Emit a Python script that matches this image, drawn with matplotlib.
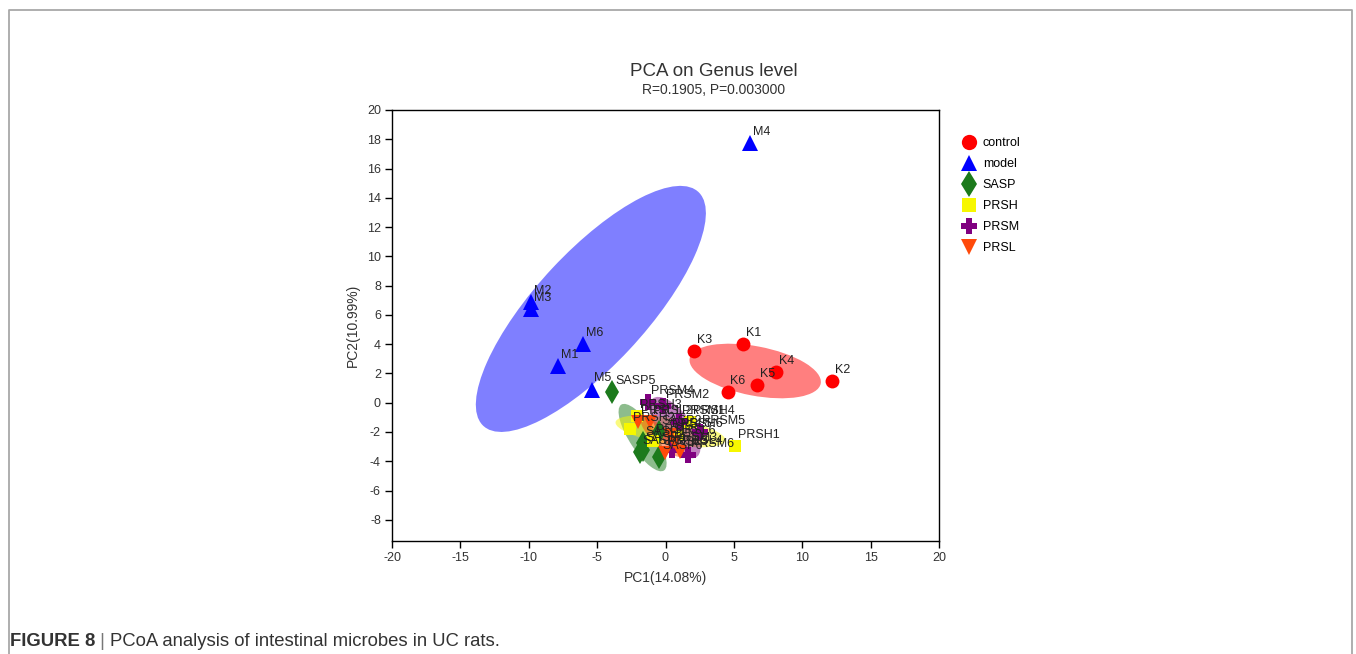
import numpy as np
import matplotlib.pyplot as plt
from matplotlib.patches import Ellipse
from matplotlib.lines import Line2D

plt.rcParams['font.family'] = ['Liberation Sans', 'DejaVu Sans']
plt.rcParams['axes.unicode_minus'] = False

# PCA scores
control_x = [5.7, 12.2, 2.1, 8.1, 6.7, 4.55]
control_y = [4.0, 1.45, 3.55, 2.1, 1.2, 0.7]
model_x = [-7.85, -9.85, -9.85, 6.2, -5.4, -6.0]
model_y = [2.5, 6.9, 6.4, 17.75, 0.9, 4.0]
sasp_x = [-1.65, -0.5, -1.9, -1.65, -3.9, -0.45]
sasp_y = [-2.75, -2.0, -3.4, -3.2, 0.75, -3.7]
prsh_x = [5.1, -2.6, -2.1, 1.8, -0.9, 0.9]
prsh_y = [-2.95, -1.8, -0.9, -1.3, -2.6, -2.2]
prsm_x = [1.0, -0.2, 0.45, -1.25, 2.5, 1.65]
prsm_y = [-1.3, -0.2, -3.2, 0.05, -2.0, -3.55]
prsl_x = [-2.0, -1.1, -0.05, 1.05, 0.3, 0.6]
prsl_y = [-1.3, -1.3, -3.45, -3.35, -2.2, -2.7]

groups = ['control', 'model', 'SASP', 'PRSH', 'PRSM', 'PRSL']
prefixes = ['K', 'M', 'SASP', 'PRSH', 'PRSM', 'PRSL']
xs = [control_x, model_x, sasp_x, prsh_x, prsm_x, prsl_x]
ys = [control_y, model_y, sasp_y, prsh_y, prsm_y, prsl_y]
colors = ['#ff0000', '#0000ff', '#1c7a1c', '#f7f700', '#800080', '#ff4a0a']
markers = ['o', '^', 'd', 's', 'P', 'v']
msizes = [10, 11, 12, 9, 11, 10.5]


def conf_ellipse(x, y, k=1.4, **kw):
    cov = np.cov(x, y)
    vals, vecs = np.linalg.eigh(cov)
    order = vals.argsort()[::-1]
    vals, vecs = vals[order], vecs[:, order]
    angle = np.degrees(np.arctan2(vecs[1, 0], vecs[0, 0]))
    w, h = 2 * k * np.sqrt(vals)
    return Ellipse((np.mean(x), np.mean(y)), w, h, angle=angle, **kw)


fig = plt.figure(figsize=(13.56, 6.54), dpi=100)
ax = fig.add_axes([392 / 1356, 1 - 541 / 654, 547 / 1356, 431 / 654])

# ellipses first, under the points
for x, y, c in zip(xs, ys, colors):
    ax.add_patch(conf_ellipse(x, y, facecolor=c, alpha=0.5, edgecolor='none', zorder=1))

for g, p, x, y, c, m, ms in zip(groups, prefixes, xs, ys, colors, markers, msizes):
    ax.plot(x, y, linestyle='none', marker=m, color=c, markersize=ms,
            markeredgewidth=0, label=g, zorder=3)

for g, p, x, y in zip(groups, prefixes, xs, ys):
    for i, (a, b) in enumerate(zip(x, y)):
        ax.annotate(f'{p}{i + 1}', (a, b), xytext=(2, 8), textcoords='offset points',
                    fontsize=9, color='#222222', va='center', zorder=4)

ax.set_xlim(-20, 20)
ax.set_ylim(-9.45, 20)
ax.set_xticks(np.arange(-20, 21, 5))
ax.set_yticks(np.arange(-8, 21, 2))
ax.tick_params(direction='out', length=5, width=1, labelsize=9, colors='black',
               labelcolor='#333333', pad=3)
for s in ax.spines.values():
    s.set_linewidth(1)
ax.set_xlabel('PC1(14.08%)', fontsize=10, color='#333333', labelpad=5)
ax.set_ylabel('PC2(10.99%)', fontsize=10, color='#333333', labelpad=5)

fig.text(714 / 1356, 1 - 71 / 654, 'PCA on Genus level', ha='center', va='center',
         fontsize=13.5, color='#333333')
fig.text(714 / 1356, 1 - 90 / 654, 'R=0.1905, P=0.003000', ha='center', va='center',
         fontsize=10, color='#333333')

fig.legend(loc='upper left', bbox_to_anchor=(961 / 1356, 1 - 137 / 654), frameon=False,
           fontsize=9, handlelength=1.3, handletextpad=0.45, labelspacing=0.72,
           borderpad=0, borderaxespad=0, markerscale=1.1)

# page frame and caption
fig.add_artist(Line2D([8.5 / 1356, 8.5 / 1356, 1351.5 / 1356, 1351.5 / 1356],
                      [-0.05, 1 - 10 / 654, 1 - 10 / 654, -0.05],
                      transform=fig.transFigure, color='#a8a8a8', lw=1.3))
t1 = fig.text(10 / 1356, 1 - 641 / 654, 'FIGURE 8', fontsize=13.3, fontweight='bold',
              color='#333333', va='center')
t2 = ax.annotate(' | ', xy=(1, 0.5), xycoords=t1, va='center', fontsize=13.3,
                 color='#777777', annotation_clip=False)
ax.annotate('PCoA analysis of intestinal microbes in UC rats.', xy=(1, 0.5), xycoords=t2,
            va='center', fontsize=13.3, color='#333333', annotation_clip=False)

fig.savefig('out.png', dpi=100)
